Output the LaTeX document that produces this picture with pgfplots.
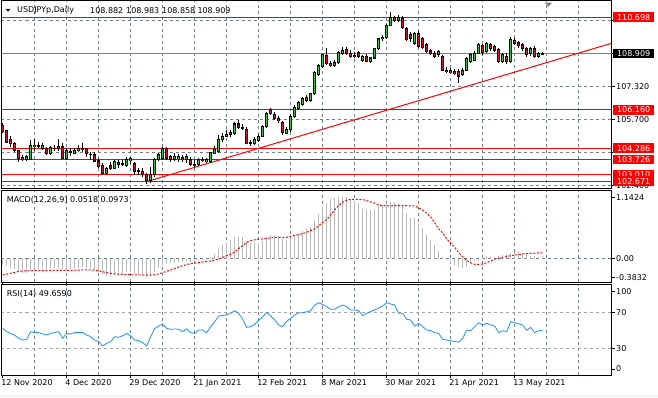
\documentclass[border=0pt]{standalone}
\usepackage{fontspec}
\setmainfont{DejaVu Sans}
\usepackage{pgfplots}
\pgfplotsset{compat=1.18}
\usepackage{pgfplotstable}
\definecolor{gridc}{RGB}{112,128,144}
\definecolor{bull}{RGB}{50,205,50}
\definecolor{bear}{RGB}{215,20,50}
\definecolor{rsic}{RGB}{30,144,255}
\definecolor{histc}{RGB}{185,185,185}
\definecolor{lvl}{RGB}{165,165,165}
\newcommand\mt{\fontsize{8pt}{9pt}\selectfont}

\pgfplotstableread{
i o h l c
0 105.42 105.50 105.01 105.10
1 105.13 105.18 104.52 104.57
2 104.69 104.90 104.36 104.52
3 104.52 104.61 104.08 104.15
4 104.15 104.20 103.59 103.79
5 103.82 103.95 103.66 103.74
6 103.74 103.95 103.66 103.87
7 103.74 104.69 103.69 104.44
8 104.36 104.74 104.15 104.44
9 104.41 104.57 104.28 104.40
10 104.28 104.52 104.20 104.41
11 104.28 104.36 103.95 104.04
12 104.04 104.39 103.95 104.31
13 104.29 104.44 104.15 104.28
14 104.28 104.74 104.15 104.39
15 104.36 104.52 103.74 103.79
16 103.79 104.28 103.71 104.15
17 104.10 104.28 103.92 104.08
18 104.05 104.28 103.99 104.15
19 104.15 104.44 104.08 104.25
20 104.25 104.52 104.12 104.24
21 104.25 104.28 103.87 104.04
22 104.00 104.12 103.71 103.99
23 103.99 104.12 103.63 103.66
24 103.66 103.79 103.30 103.38
25 103.43 103.55 102.97 103.06
26 103.06 103.38 103.01 103.30
27 103.46 103.63 103.22 103.30
28 103.30 103.71 103.27 103.63
29 103.59 103.71 103.30 103.50
30 103.55 103.71 103.43 103.50
31 103.46 103.87 103.38 103.71
32 103.66 103.87 103.50 103.76
33 103.55 103.59 102.97 103.17
34 103.17 103.33 102.97 103.18
35 103.14 103.30 102.89 103.02
36 103.01 103.06 102.54 102.70
37 102.70 103.38 102.60 102.98
38 102.98 103.79 102.89 103.74
39 103.74 104.07 103.66 103.99
40 103.76 104.33 103.71 104.25
41 104.25 104.33 103.71 103.76
42 103.87 103.95 103.63 103.74
43 103.74 104.04 103.68 103.87
44 103.78 103.99 103.63 103.87
45 103.84 103.95 103.63 103.71
46 103.71 103.99 103.55 103.90
47 103.74 103.87 103.42 103.47
48 103.51 103.71 103.35 103.42
49 103.47 103.79 103.42 103.74
50 103.74 103.87 103.59 103.68
51 103.63 103.79 103.55 103.71
52 103.63 104.12 103.55 104.07
53 104.04 104.39 103.99 104.23
54 104.12 104.93 104.07 104.69
55 104.69 105.01 104.61 104.88
56 104.88 105.18 104.82 104.98
57 104.98 105.18 104.85 105.05
58 105.01 105.59 104.93 105.47
59 105.47 105.67 105.21 105.31
60 105.31 105.47 105.18 105.28
61 105.21 105.30 104.49 104.53
62 104.53 104.69 104.39 104.55
63 104.53 104.85 104.44 104.69
64 104.64 104.98 104.61 104.88
65 104.85 105.42 104.82 105.34
66 105.34 106.08 105.26 105.99
67 106.16 106.24 105.91 105.99
68 105.95 106.05 105.65 105.75
69 105.75 105.85 105.50 105.62
70 105.55 105.62 104.95 105.05
71 105.02 105.30 104.98 105.18
72 105.18 105.95 105.10 105.83
73 105.83 106.40 105.75 106.30
74 106.25 106.60 106.15 106.50
75 106.42 106.80 106.35 106.74
76 106.78 106.90 106.55 106.61
77 106.61 107.00 106.55 106.94
78 106.94 108.05 106.90 107.97
79 107.88 108.40 107.80 108.34
80 108.29 108.90 108.20 108.86
81 108.83 109.19 108.35 108.41
82 108.41 108.55 108.25 108.34
83 108.34 108.60 108.25 108.46
84 108.46 109.05 108.40 108.99
85 108.90 109.25 108.85 109.09
86 109.14 109.25 108.85 108.92
87 108.92 109.10 108.70 108.78
88 108.83 109.00 108.70 108.77
89 108.95 109.05 108.70 108.78
90 108.57 108.85 108.50 108.78
91 108.78 108.90 108.48 108.54
92 108.54 108.75 108.45 108.70
93 108.70 109.20 108.65 109.16
94 109.16 109.70 109.10 109.63
95 109.65 109.85 109.55 109.71
96 109.71 110.35 109.65 110.30
97 110.30 110.97 110.25 110.66
98 110.66 110.75 110.45 110.53
99 110.53 110.80 110.45 110.66
100 110.61 110.75 110.10 110.17
101 110.15 110.20 109.55 109.62
102 109.86 109.95 109.50 109.66
103 109.42 109.95 109.35 109.91
104 109.91 110.00 109.20 109.26
105 109.66 109.75 109.15 109.22
106 109.34 109.45 108.95 109.01
107 109.06 109.15 108.85 108.90
108 108.93 109.05 108.70 108.77
109 108.85 109.10 108.75 109.01
110 108.77 108.85 108.05 108.11
111 108.11 108.25 107.95 108.03
112 108.08 108.20 107.90 107.98
113 108.03 108.15 107.85 107.95
114 108.03 108.15 107.49 107.79
115 107.87 108.20 107.80 108.11
116 108.11 108.75 108.05 108.69
117 108.52 108.95 108.45 108.85
118 108.60 109.05 108.55 108.93
119 108.93 109.45 108.88 109.34
120 109.29 109.40 108.85 108.96
121 109.01 109.50 108.95 109.42
122 109.34 109.45 109.05 109.17
123 109.26 109.35 109.00 109.09
124 109.12 109.20 108.45 108.52
125 108.52 108.95 108.45 108.85
126 108.77 108.95 108.40 108.52
127 108.52 109.75 108.45 109.61
128 109.55 109.70 109.35 109.42
129 109.45 109.55 109.20 109.29
130 109.34 109.45 109.05 109.17
131 109.17 109.25 108.75 108.85
132 108.93 109.25 108.80 109.17
133 109.17 109.30 108.70 108.77
134 108.77 109.00 108.70 108.93
135 108.882 108.983 108.858 108.909
}\ohlc

\pgfplotstableread{
i m s r
0 -0.10 -0.275 52.2
1 -0.12 -0.26 48.5
2 -0.15 -0.245 46.6
3 -0.18 -0.23 44.5
4 -0.22 -0.215 41.0
5 -0.24 -0.208 39.2
6 -0.24 -0.205 40.0
7 -0.20 -0.205 48.5
8 -0.18 -0.20 47.4
9 -0.17 -0.20 47.4
10 -0.16 -0.20 46.0
11 -0.17 -0.20 44.8
12 -0.16 -0.198 46.6
13 -0.16 -0.196 47.4
14 -0.15 -0.195 48.5
15 -0.18 -0.197 41.1
16 -0.17 -0.197 46.6
17 -0.17 -0.196 45.9
18 -0.16 -0.195 47.4
19 -0.15 -0.193 47.4
20 -0.14 -0.19 47.4
21 -0.15 -0.19 44.8
22 -0.16 -0.19 42.9
23 -0.19 -0.195 39.2
24 -0.23 -0.205 37.4
25 -0.28 -0.22 32.6
26 -0.29 -0.235 35.5
27 -0.29 -0.247 37.4
28 -0.27 -0.255 42.9
29 -0.26 -0.262 42.2
30 -0.25 -0.265 44.0
31 -0.23 -0.268 46.6
32 -0.22 -0.27 43.7
33 -0.25 -0.272 39.2
34 -0.26 -0.273 38.5
35 -0.27 -0.275 36.3
36 -0.30 -0.275 32.6
37 -0.29 -0.275 42.9
38 -0.22 -0.27 52.2
39 -0.16 -0.255 54.8
40 -0.10 -0.236 57.0
41 -0.09 -0.21 52.2
42 -0.08 -0.19 51.1
43 -0.07 -0.165 51.5
44 -0.06 -0.14 51.1
45 -0.06 -0.12 48.5
46 -0.04 -0.10 51.5
47 -0.05 -0.085 47.4
48 -0.06 -0.075 46.6
49 -0.03 -0.065 50.3
50 -0.02 -0.055 50.3
51 -0.01 -0.05 47.4
52 0.03 -0.04 54.0
53 0.08 -0.025 59.6
54 0.16 -0.007 65.9
55 0.22 0.02 66.5
56 0.27 0.049 67.0
57 0.31 0.075 68.9
58 0.36 0.11 71.8
59 0.37 0.17 68.9
60 0.36 0.22 62.2
61 0.30 0.27 53.3
62 0.27 0.30 54.1
63 0.26 0.315 56.6
64 0.27 0.325 61.5
65 0.30 0.33 65.0
66 0.37 0.34 70.0
67 0.40 0.345 65.9
68 0.40 0.355 61.5
69 0.38 0.357 56.0
70 0.33 0.357 54.1
71 0.31 0.357 60.0
72 0.34 0.375 63.3
73 0.38 0.39 67.0
74 0.42 0.405 69.6
75 0.46 0.42 69.6
76 0.49 0.44 70.5
77 0.53 0.47 71.8
78 0.64 0.50 78.1
79 0.75 0.55 80.7
80 0.86 0.608 78.5
81 0.93 0.655 76.3
82 1.00 0.73 73.3
83 1.02 0.82 73.3
84 1.03 0.89 76.3
85 1.035 0.95 78.1
86 1.025 0.98 76.3
87 1.00 0.994 72.6
88 0.97 0.994 72.6
89 0.93 0.994 71.8
90 0.85 0.99 66.3
91 0.815 0.97 68.9
92 0.815 0.95 71.0
93 0.84 0.93 72.6
94 0.895 0.90 75.0
95 0.90 0.888 77.0
96 0.925 0.885 80.7
97 0.955 0.885 79.2
98 0.955 0.888 78.1
99 0.93 0.89 68.9
100 0.90 0.89 68.9
101 0.76 0.888 62.2
102 0.675 0.885 61.5
103 0.675 0.885 54.8
104 0.59 0.85 57.7
105 0.51 0.815 54.1
106 0.40 0.76 50.3
107 0.31 0.70 49.6
108 0.23 0.60 47.4
109 0.12 0.50 46.6
110 0.03 0.43 40.0
111 -0.025 0.33 39.2
112 -0.08 0.26 38.5
113 -0.11 0.19 37.5
114 -0.135 0.10 37.0
115 -0.15 0.03 41.1
116 -0.135 -0.03 50.3
117 -0.08 -0.07 49.6
118 -0.04 -0.095 54.1
119 -0.005 -0.096 58.5
120 0.03 -0.09 55.9
121 0.05 -0.065 57.7
122 0.05 -0.04 55.9
123 0.03 -0.01 54.8
124 0.05 0.005 47.4
125 0.06 0.015 49.6
126 0.077 0.035 48.5
127 0.09 0.05 59.6
128 0.115 0.06 58.5
129 0.105 0.065 57.0
130 0.09 0.08 55.9
131 0.072 0.085 50.0
132 0.05 0.088 53.3
133 0.05 0.09 47.4
134 0.035 0.095 49.6
135 0.0518 0.0973 49.659
}\ind

\tikzset{
  lab/.style={anchor=west, xshift=3.5pt, inner sep=1pt, font=\mt},
  rbox/.style={anchor=west, xshift=1.2pt, inner sep=0pt, minimum width=41.5pt,
    minimum height=9.5pt, fill=red, text=white, font=\mt},
  bbox/.style={rbox, fill=black},
}
\pgfplotsset{
  mtpanel/.style={
    scale only axis, width=610pt, anchor=south west,
    xmin=-0.3, xmax=152.2,
    axis line style={black, line width=0.9pt},
    xtick={8,16,...,144}, xticklabels={}, xtick style={draw=none},
    xmajorgrids, ymajorgrids,
    major grid style={gridc, dash pattern=on 3pt off 3pt, line width=0.6pt},
    ytick pos=right, yticklabels={},
    ytick style={black, line width=0.6pt},
    tick align=outside, major tick length=3pt,
    clip mode=individual,
  },
  err/.style 2 args={draw=none, forget plot, error bars/.cd, y dir=both, y explicit,
    error mark=none, error bar style={draw=#1, line width=#2}},
}

\begin{document}
\begin{tikzpicture}[x=1pt,y=1pt]
\path[use as bounding box, fill=white] (0pt,0pt) rectangle (658pt,397pt);
\fill[gray!12] (0pt,0pt) rectangle (658pt,2pt);

% ---------- main price panel ----------
\begin{axis}[mtpanel, at={(1.5pt,208.5pt)}, height=188.5pt,
  ymin=102.313, ymax=111.539,
  ytick={102.46,104.08,105.70,107.32,108.94,110.56}]
\addplot[red, line width=1pt] coordinates {(-0.3,110.698) (152.2,110.698)};
\addplot[red, line width=1pt] coordinates {(-0.3,106.160) (152.2,106.160)};
\addplot[red, line width=1pt] coordinates {(-0.3,104.286) (152.2,104.286)};
\addplot[red, line width=1pt] coordinates {(-0.3,103.726) (152.2,103.726)};
\addplot[red, line width=1pt] coordinates {(-0.3,103.010) (152.2,103.010)};
\addplot[red, line width=1pt] coordinates {(-0.3,102.671) (152.2,102.671)};
\addplot[gray, line width=0.8pt] coordinates {(-0.3,108.909) (152.2,108.909)};
\addplot[red, line width=1pt] coordinates {(36,102.65) (152.2,109.42)};
% wicks
\addplot[err={black}{0.9pt}]
  table[x=i, y expr={(\thisrow{h}+\thisrow{l})/2}, y error expr={(\thisrow{h}-\thisrow{l})/2}] {\ohlc};
% body outlines
\addplot[err={black}{3.2pt}]
  table[x=i, y expr={(\thisrow{o}+\thisrow{c})/2}, y error expr={abs(\thisrow{c}-\thisrow{o})/2+0.025}] {\ohlc};
% bull bodies
\addplot[restrict expr to domain={\thisrow{c}-\thisrow{o}}{0:20}, err={bull}{1.5pt}]
  table[x=i, y expr={(\thisrow{o}+\thisrow{c})/2}, y error expr={max(abs(\thisrow{c}-\thisrow{o})/2-0.025,0)}] {\ohlc};
% bear bodies
\addplot[restrict expr to domain={\thisrow{o}-\thisrow{c}}{0.00001:20}, err={bear}{1.5pt}]
  table[x=i, y expr={(\thisrow{o}+\thisrow{c})/2}, y error expr={max(abs(\thisrow{c}-\thisrow{o})/2-0.025,0)}] {\ohlc};
% right scale
\node[lab] at (axis cs:152.2,110.56) {110.560};
\node[lab] at (axis cs:152.2,107.32) {107.320};
\node[lab] at (axis cs:152.2,105.70) {105.700};
\node[lab] at (axis cs:152.2,102.46) {102.460};
\node[rbox] at (axis cs:152.2,110.698) {110.698};
\node[bbox] at (axis cs:152.2,108.909) {108.909};
\node[rbox] at (axis cs:152.2,106.160) {106.160};
\node[rbox] at (axis cs:152.2,104.286) {104.286};
\node[rbox] at (axis cs:152.2,103.726) {103.726};
\node[rbox] at (axis cs:152.2,103.010) {103.010};
\node[rbox] at (axis cs:152.2,102.671) {102.671};
\end{axis}

% ---------- MACD panel ----------
\begin{axis}[mtpanel, at={(1.5pt,115pt)}, height=91.5pt,
  ymin=-0.392, ymax=1.1417, ytick={0},
  extra y ticks={1.02,-0.31}, extra y tick labels={}, extra y tick style={grid=none}]
\addplot[histc, line width=1pt, ycomb] table[x=i, y=m] {\ind};
\addplot[red, line width=1pt, dash pattern=on 2pt off 1.6pt] table[x=i, y=s] {\ind};
\node[lab] at (axis cs:152.2,1.02) {1.1424};
\node[lab] at (axis cs:152.2,0) {0.00};
\node[lab] at (axis cs:152.2,-0.31) {-0.3832};
\end{axis}

% ---------- RSI panel ----------
\begin{axis}[mtpanel, at={(1.5pt,22pt)}, height=90.5pt,
  ymin=0.33, ymax=100.9, ytick={30,70},
  major y grid style={lvl, dash pattern=on 3pt off 3pt, line width=0.6pt},
  extra y ticks={92.9,7}, extra y tick labels={}, extra y tick style={grid=none},
  extra x ticks={0,16,...,128},
  extra x tick labels={12 Nov 2020,4 Dec 2020,29 Dec 2020,21 Jan 2021,12 Feb 2021,8 Mar 2021,30 Mar 2021,21 Apr 2021,13 May 2021},
  extra x tick style={grid=none, xtick style={draw=black, line width=0.6pt},
    xticklabel style={anchor=north west, xshift=-1.5pt, yshift=-1.5pt, inner sep=0pt, font=\mt}}]
\addplot[rsic, line width=0.8pt] table[x=i, y=r] {\ind};
\node[lab] at (axis cs:152.2,92.9) {100};
\node[lab] at (axis cs:152.2,70) {70};
\node[lab] at (axis cs:152.2,30) {30};
\node[lab] at (axis cs:152.2,7) {0};
\end{axis}

% ---------- panel captions ----------
\fill (5.7pt,388pt) -- (10.3pt,388pt) -- (8pt,385.4pt) -- cycle;
\node[anchor=west, inner sep=0pt, font=\mt] at (17pt,386.7pt) {USDJPYp,Daily};
\node[anchor=west, inner sep=0pt, font=\mt] at (90pt,386.7pt) {108.882};
\node[anchor=west, inner sep=0pt, font=\mt] at (126pt,386.7pt) {108.983};
\node[anchor=west, inner sep=0pt, font=\mt] at (162pt,386.7pt) {108.858};
\node[anchor=west, inner sep=0pt, font=\mt] at (197.3pt,386.7pt) {108.909};
\fill[gray] (545pt,394.3pt) -- (552pt,394.3pt) -- (548.5pt,390.3pt) -- cycle;
\node[anchor=west, inner sep=0pt, font=\mt] at (6.7pt,197pt) {MACD(12,26,9) 0.0518 0.0973};
\node[anchor=west, inner sep=0pt, font=\mt] at (6.7pt,103pt) {RSI(14) 49.6590};
\end{tikzpicture}
\end{document}
